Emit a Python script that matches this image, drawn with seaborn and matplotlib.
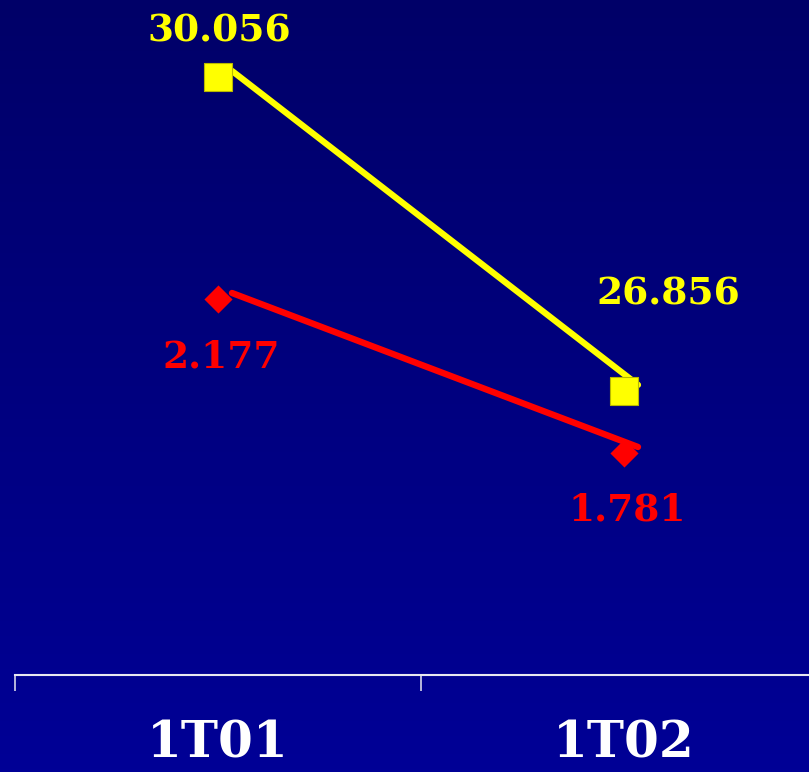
import numpy as np
import pandas as pd
import matplotlib
matplotlib.use("Agg")
import matplotlib.pyplot as plt
import matplotlib.transforms as mtransforms
import seaborn as sns

# data
categories = ["1T01", "1T02"]
yellow_vals = [30.056, 26.856]
red_vals = [2.177, 1.781]

df = pd.DataFrame({"pos": np.arange(len(categories)),
                   "cat": categories,
                   "yellow": yellow_vals,
                   "red": red_vals})

sns.set_theme(style="white")
plt.rcParams['font.family'] = ['DejaVu Serif']

fig = plt.figure(figsize=(8.09, 7.72), dpi=100)

# gradient background
bg = fig.add_axes([0, 0, 1, 1], zorder=-10)
grad = np.linspace(0, 1, 256).reshape(-1, 1)
cmap = matplotlib.colors.LinearSegmentedColormap.from_list("bg", ["#000068", "#000096"])
bg.imshow(grad, aspect="auto", cmap=cmap, extent=[0, 1, 0, 1], origin="upper")
bg.axis("off")

ax1 = fig.add_axes([15 / 809, 97 / 772, 812 / 809, 675 / 772])
ax1.patch.set_alpha(0)
ax2 = ax1.twinx()
ax2.patch.set_alpha(0)

line_shift = mtransforms.ScaledTranslation(0.14, 0.06, fig.dpi_scale_trans)

# yellow series
sns.lineplot(data=df, x="pos", y="yellow", ax=ax1, color="#ffff00", lw=4.5,
             solid_capstyle="round", zorder=3)
sns.scatterplot(data=df, x="pos", y="yellow", ax=ax1, marker="s", s=380,
                color="#ffff00", edgecolor="#b8b800", linewidth=0.8, zorder=4)
# red series
sns.lineplot(data=df, x="pos", y="red", ax=ax2, color="#ff0000", lw=4.6,
             solid_capstyle="round", zorder=3)
sns.scatterplot(data=df, x="pos", y="red", ax=ax2, marker="D", s=205,
                color="#ff0000", edgecolor="#ff0000", linewidth=0, zorder=4)

for a in (ax1, ax2):
    for ln in a.lines:
        ln.set_transform(ln.get_transform() + line_shift)

ax1.set_xlim(-0.5, 1.5)
ax1.set_ylim(23.96, 30.84)
ax2.set_ylim(1.210, 2.946)

# value labels
yoffs = [(1, 33), (32, 70)]
for x, v, off in zip(df["pos"], yellow_vals, yoffs):
    ax1.annotate(f"{v:.3f}", (x, v), xytext=off, textcoords="offset points",
                 ha="center", va="center", color="#ffff00",
                 fontsize=27, fontweight="bold")
roffs = [(2, -42), (2, -41)]
for x, v, off in zip(df["pos"], red_vals, roffs):
    ax2.annotate(f"{v:.3f}", (x, v), xytext=off, textcoords="offset points",
                 ha="center", va="center", color="#ff0000",
                 fontsize=27, fontweight="bold")

# axes styling
for a in (ax1, ax2):
    for side in ["top", "right", "left"]:
        a.spines[side].set_visible(False)
    a.set_yticks([])
    a.set_ylabel("")
    a.set_xlabel("")
ax2.spines["bottom"].set_visible(False)
ax1.spines["bottom"].set_color("#e8e8f0")
ax1.spines["bottom"].set_linewidth(1.5)

ax1.set_xticks([-0.5, 0.5, 1.5])
ax1.set_xticklabels([])
ax1.tick_params(axis="x", which="major", direction="out", length=11.5,
                width=1.1, color="#e8e8f0", bottom=True)
ax1.set_xticks(df["pos"], minor=True)
ax1.set_xticklabels(categories, minor=True)
ax1.tick_params(axis="x", which="minor", length=0, pad=32, labelsize=36,
                labelcolor="white")
for t in ax1.get_xticklabels(minor=True):
    t.set_fontweight("bold")

fig.savefig("out.png", dpi=100)
